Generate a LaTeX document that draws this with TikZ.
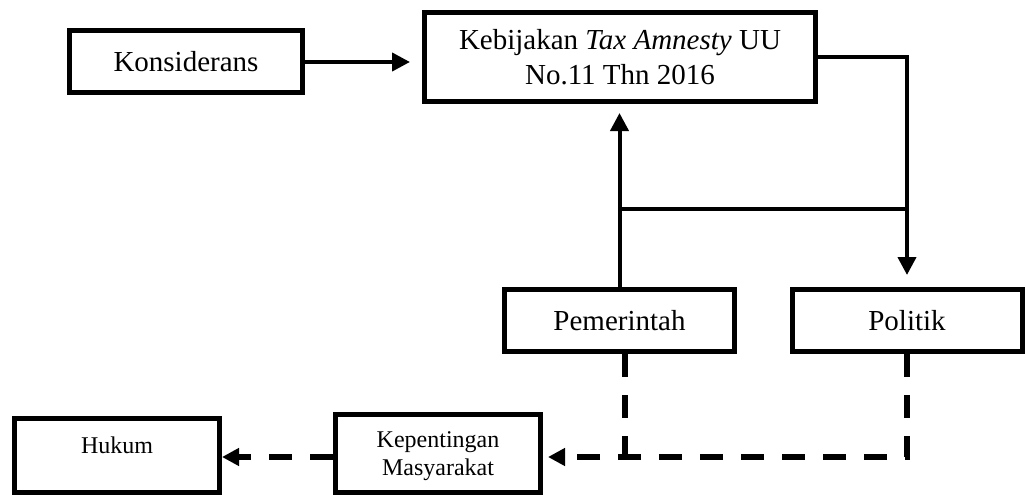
\documentclass[tikz,border=0pt]{standalone}
\usepackage{fontspec}
\setmainfont{Liberation Serif}
\usetikzlibrary{arrows.meta}
\begin{document}
\begin{tikzpicture}[x=1pt,y=-1pt,
  box/.style={draw,line width=5pt,inner sep=0pt,align=center,font=\fontsize{29}{35}\selectfont},
  smallbox/.style={box,font=\fontsize{24}{28}\selectfont},
  conn/.style={line width=4pt,-{Triangle[length=18pt,width=18pt]}},
  plain/.style={line width=4pt},
  dline/.style={line width=6pt,dash pattern=on 23pt off 18pt},
  darrow/.style={dline,-{Triangle[length=17pt,width=17pt]}}]
\useasboundingbox (0,0) rectangle (1026,495);
\node[box,minimum width=233pt,minimum height=62pt] (kon) at (186,61.5) {Konsiderans};
\node[box,minimum width=391pt,minimum height=89pt] (keb) at (620,57) {Kebijakan \textit{Tax Amnesty} UU\\No.11 Thn 2016};
\node[box,minimum width=230pt,minimum height=62pt] (pem) at (619.5,320.5) {Pemerintah};
\node[box,minimum width=230pt,minimum height=62pt] (pol) at (907,320.5) {Politik};
\node[smallbox,minimum width=205pt,minimum height=78pt,text depth=0pt] (kep) at (438,453.5) {Kepentingan\\Masyarakat};
\node[smallbox,minimum width=205pt,minimum height=74pt,text height=17pt,text depth=22pt] (huk) at (117,455.5) {Hukum};
\coordinate (h) at (0,209);
\coordinate (m) at (0,457);
\draw[conn,shorten >=12pt] (kon.east |- 0,62) -- (keb.west |- 0,62);
\draw[conn,shorten >=12pt] (keb.east) -| (pol.north);
\draw[plain] (pem.north |- h) -- (pol.north |- h);
\draw[conn,shorten >=9pt] (pem.north) -- (pem.north |- keb.south);
\draw[dline] ([xshift=5pt]pem.south) -- ([xshift=5pt]pem.south |- m);
\draw[darrow,shorten >=5pt] (pol.south) -- (pol.south |- m) -- (kep.east |- m);
\draw[darrow] (kep.west |- m) -- (huk.east |- m);
\end{tikzpicture}
\end{document}
